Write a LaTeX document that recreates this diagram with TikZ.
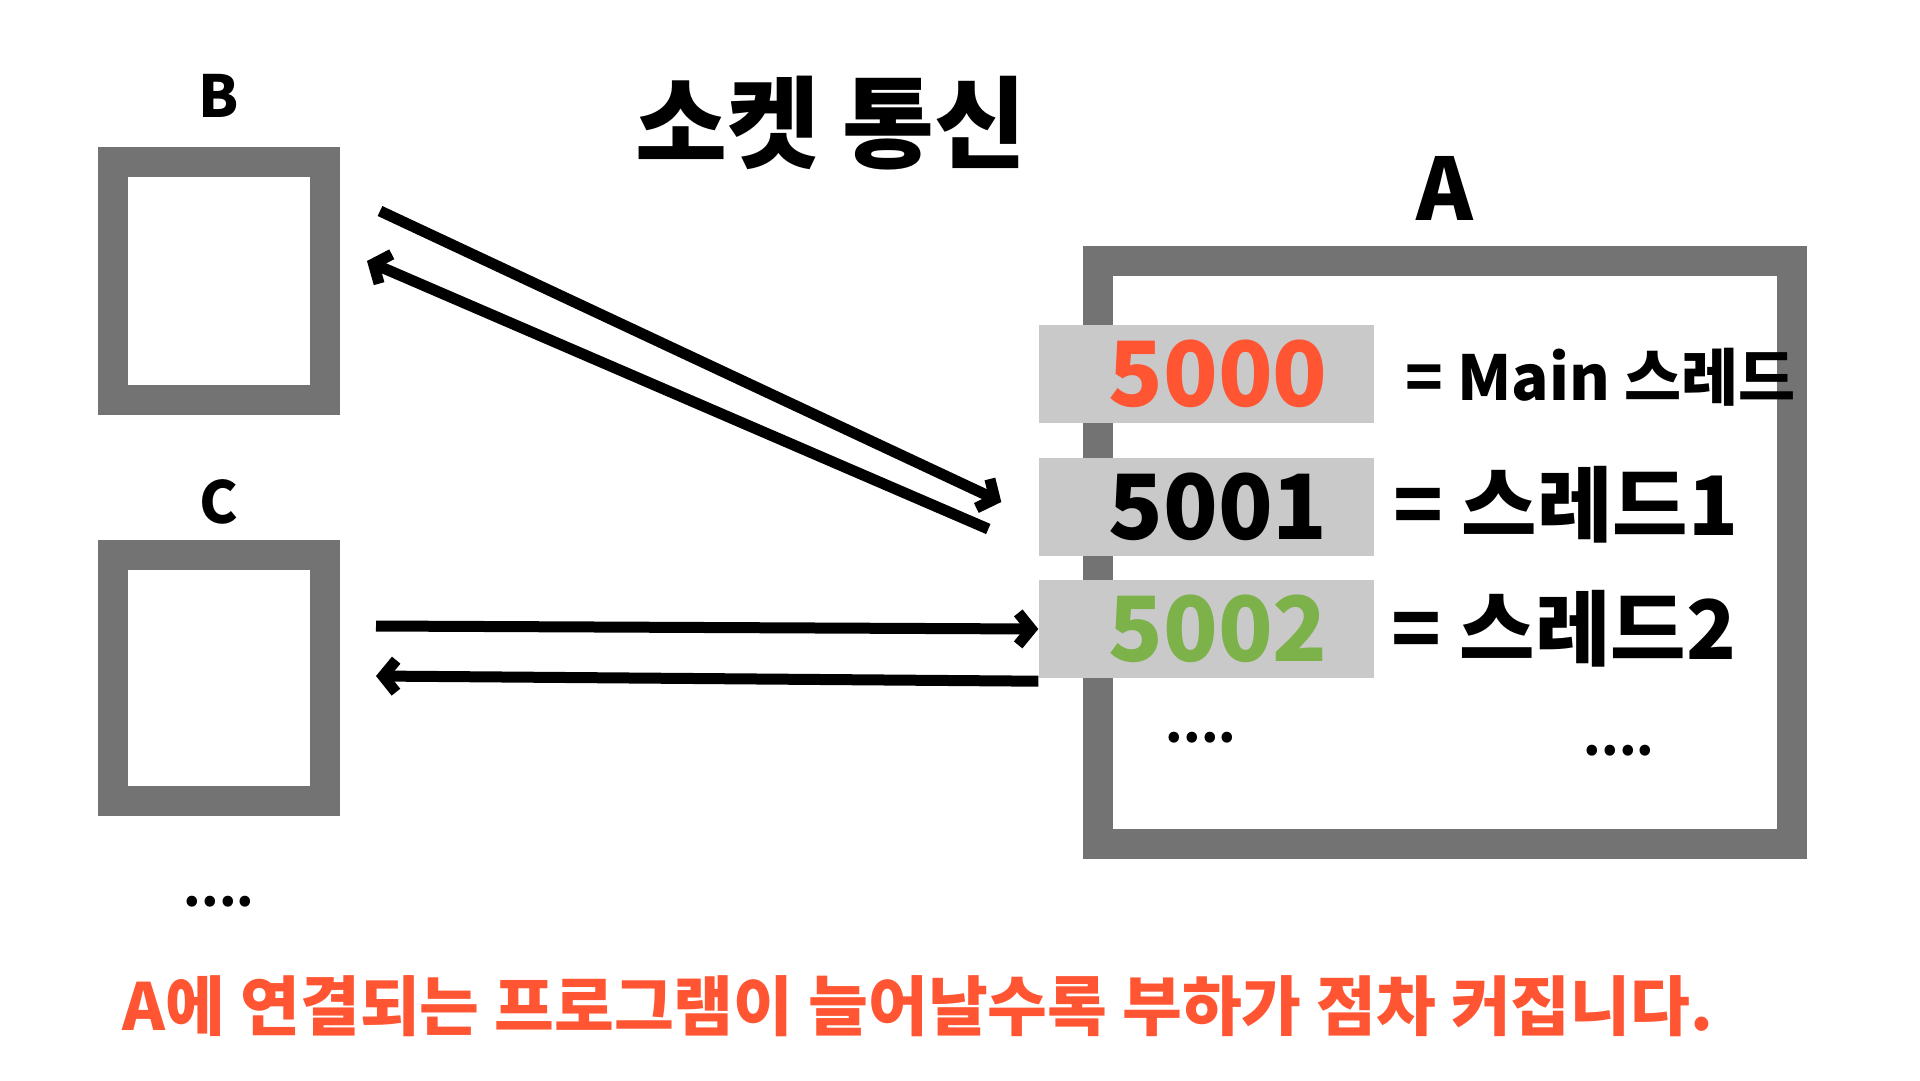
\documentclass[tikz,border=0pt]{standalone}
\usepackage{fontspec}
\setmainfont{Noto Sans CJK KR}
\usetikzlibrary{arrows.meta,positioning}
\definecolor{frame}{HTML}{737373}
\definecolor{portfill}{HTML}{C9C9C9}
\definecolor{warn}{HTML}{FF5533}
\definecolor{okgreen}{HTML}{7DB24A}

\begin{document}
\begin{tikzpicture}[x=1pt, y=-1pt,
  host/.style={draw=frame, line width=30pt, inner sep=0pt, minimum width=212pt},
  port/.style={fill=portfill, minimum width=335pt, minimum height=98pt, inner sep=0pt,
               font=\fontsize{90}{90}\selectfont\bfseries},
  lbl/.style={font=\fontsize{58}{58}\selectfont\bfseries, inner sep=0pt},
  thr/.style={anchor=west, inner sep=0pt, font=\fontsize{82}{82}\selectfont\bfseries},
  dots/.style={font=\fontsize{50}{50}\selectfont\bfseries, inner sep=0pt},
  arr/.style={-{Straight Barb[length=13pt, width=32pt]}, line width=11pt}
]
  \useasboundingbox (0,0) rectangle (1920,1080);

  % title
  \node[font=\fontsize{100}{100}\selectfont\bfseries, inner sep=0pt] (title) at (831,123) {소켓 통신};

  % clients
  \node[host, minimum height=238pt] (b) at (219,281) {};
  \node[lbl] (blbl) at (219,96) {B};
  \node[host, minimum height=246pt] (c) at (219,678) {};
  \node[lbl] (clbl) at (219,502) {C};
  \node[dots] (cdots) at (219,902) {....};

  % server
  \node[host, minimum width=694pt, minimum height=583pt] (a) at (1445,552) {};
  \node[lbl, font=\fontsize{86}{86}\selectfont\bfseries] (albl) at (1445,188) {A};

  \node[port, text=warn] (p0) at (1206,374) {\hspace*{24pt}5000};
  \node[port] (p1) at (1206,507) {\hspace*{24pt}5001};
  \node[port, text=okgreen] (p2) at (1206,629) {\hspace*{24pt}5002};

  \node[thr, font=\fontsize{62}{62}\selectfont\bfseries] (t0) at (1405,377) {= Main 스레드};
  \node[thr] (t1) at (1393,505) {= 스레드1};
  \node[thr] (t2) at (1391,629) {= 스레드2};

  \node[dots] (adots1) at (1201,738) {....};
  \node[dots] (adots2) at (1619,751) {....};

  \draw[arr] ([shift={(40,-70)}]b.east) -- ([shift={(-37,-5)}]p1.west);
  \draw[arr] ([shift={(-50,22)}]p1.west) -- ([shift={(27,-20)}]b.east);
  \draw[arr] ([shift={(36,-52)}]c.east) -- (p2.west);
  \draw[arr] ([yshift=-3]p2.south west) -- ([shift={(36,-2)}]c.east);

  \node[font=\fontsize{65}{65}\selectfont\bfseries, text=warn, inner sep=0pt] (note) at (918,1006)
    {A에 연결되는 프로그램이 늘어날수록 부하가 점차 커집니다.};
\end{tikzpicture}
\end{document}
